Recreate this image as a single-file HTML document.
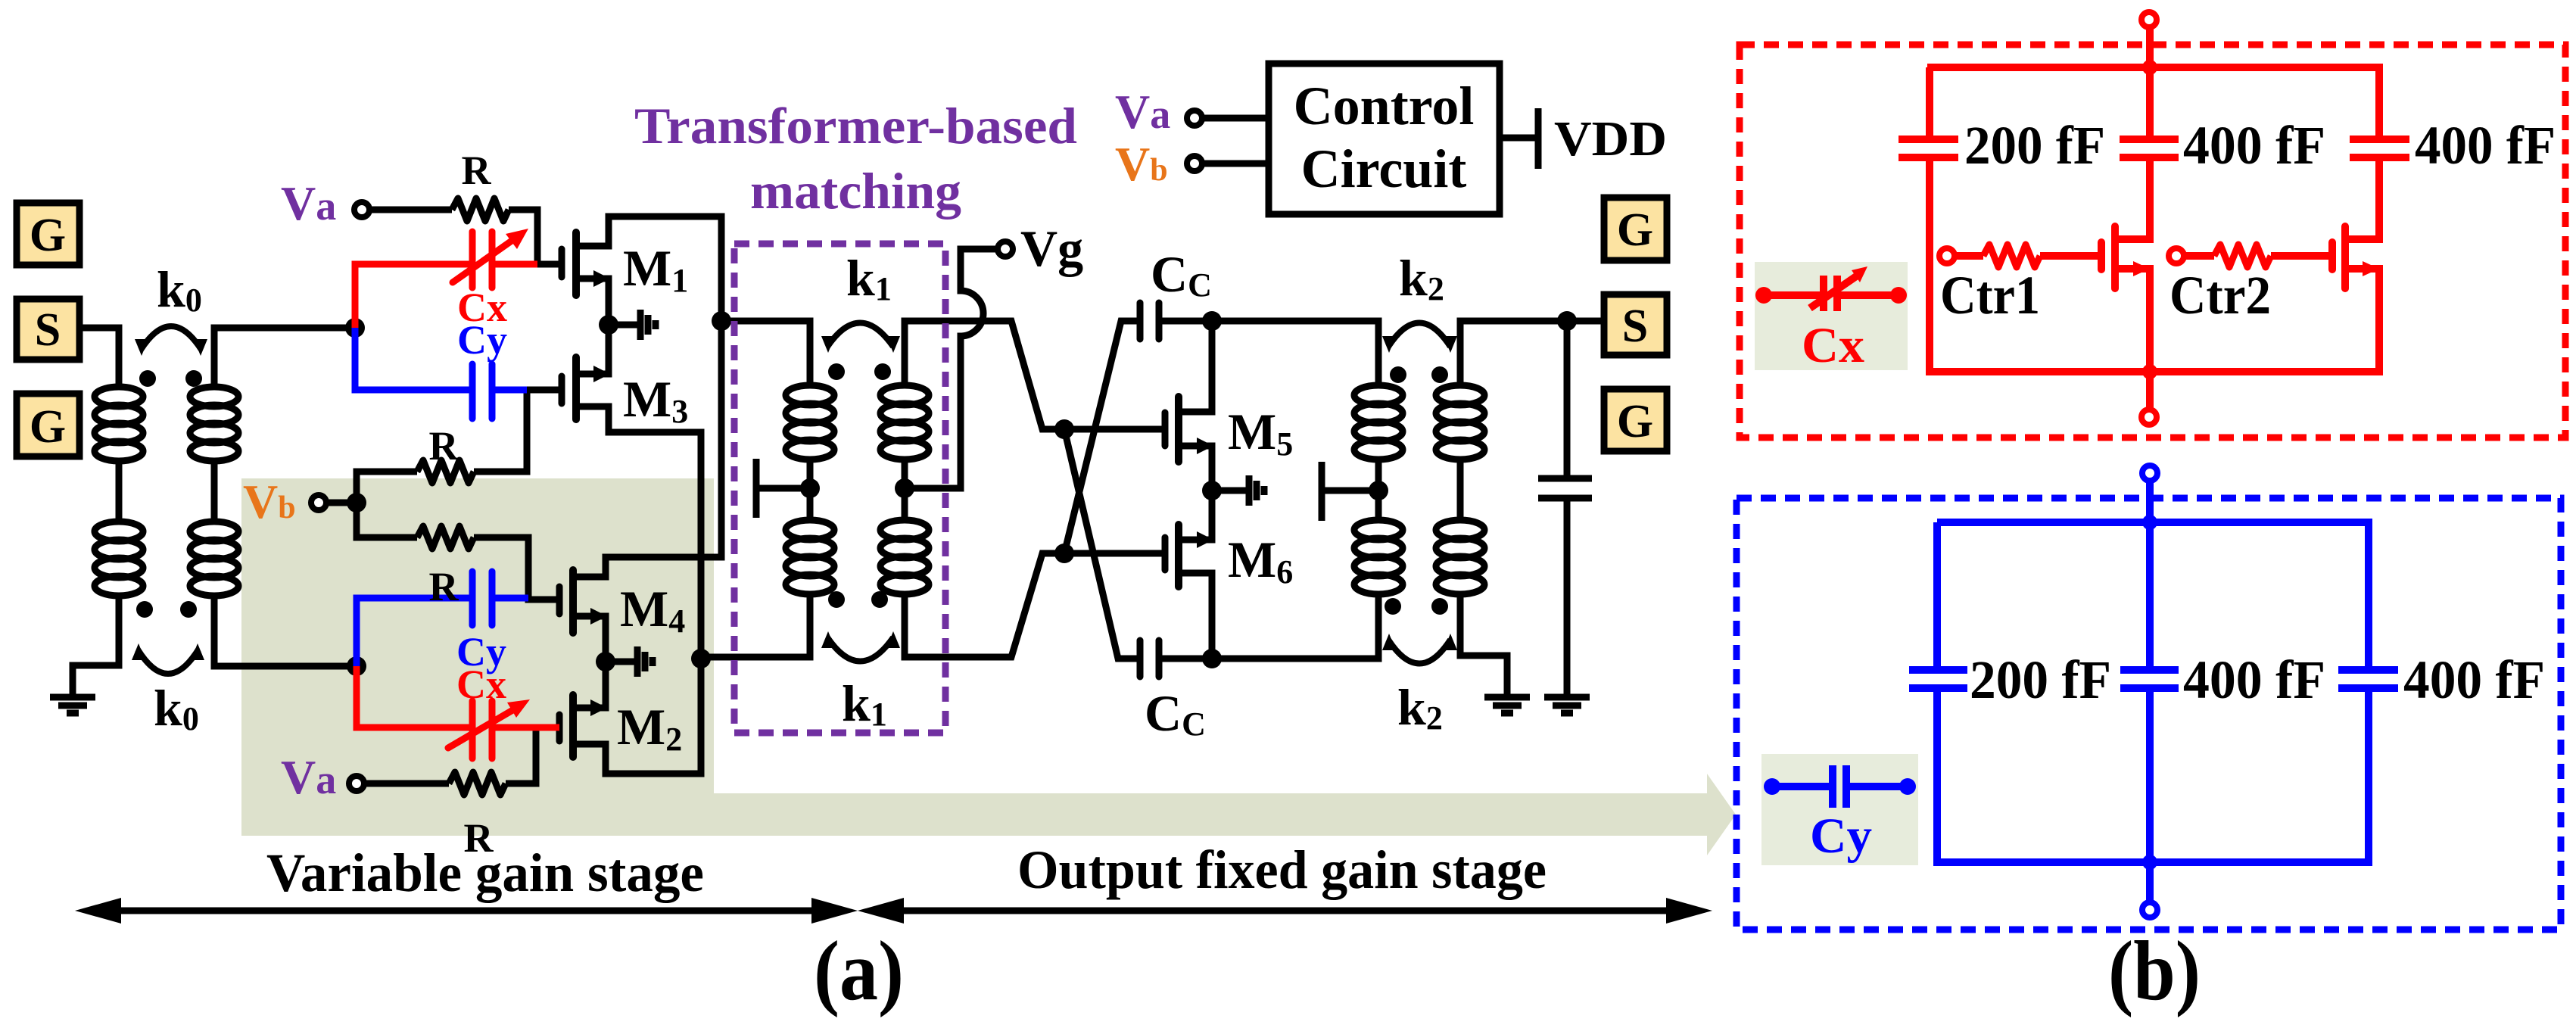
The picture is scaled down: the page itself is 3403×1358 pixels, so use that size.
<!DOCTYPE html>
<html><head><meta charset="utf-8"><style>
html,body{margin:0;padding:0;background:#fff;}
svg{display:block;}
text{font-family:"Liberation Serif",serif;font-weight:bold;}
</style></head><body>
<svg width="3403" height="1358" viewBox="0 0 3403 1358" xmlns="http://www.w3.org/2000/svg">
<defs>
<g id="coil" fill="none" stroke-width="9">
<ellipse cx="0" cy="0" rx="32" ry="13"/><ellipse cx="0" cy="24" rx="32" ry="13"/><ellipse cx="0" cy="48" rx="32" ry="13"/><ellipse cx="0" cy="72" rx="32" ry="13"/>
</g>
<path id="res" d="M0,0 l8,-15 l12,30 l12,-30 l12,30 l12,-30 l12,30 l7,-15" fill="none" stroke-width="9" stroke-linejoin="round"/>
<g id="gnd" stroke="#000" stroke-width="9" fill="none"><path d="M0,0 V12 M-30,12 H30 M-19,23 H19 M-8,33 H8"/></g>
</defs>

<polygon points="319,632 943,632 943,1048 2255,1048 2255,1022 2293,1076 2255,1130 2255,1104 319,1104" fill="#dde1cc"/>

<g stroke="#000" stroke-width="9" fill="#fce3a2">
<rect x="22" y="268" width="83" height="82"/><rect x="22" y="395" width="83" height="80"/><rect x="22" y="520" width="83" height="83"/>
<rect x="2119" y="261" width="83" height="83"/><rect x="2119" y="389" width="83" height="80"/><rect x="2119" y="514" width="83" height="82"/>
</g>
<g font-size="62" text-anchor="middle">
<text x="63" y="331">G</text><text x="63" y="456">S</text><text x="63" y="584">G</text>
<text x="2160" y="324">G</text><text x="2160" y="451">S</text><text x="2160" y="577">G</text>
</g>

<g stroke="#000" stroke-width="9" fill="none">
<path d="M105,433 H157 V512 M157,608 V690 M157,786 V879 H96 V915"/>
<path d="M283,512 V433 H469 M283,608 V690 M283,786 V880 H471"/>
<path d="M487,277 H597 M672,277 H710 V349 H742"/>
<path d="M696,515 H742 M696,515 V623 H626 M551,623 H471 V710 H551 M626,710 H698 V792 H739"/>
<path d="M430,664 H471"/>
<path d="M480,1035 H593 M668,1035 H708 V961 H739"/>
<path d="M742,329 V366" stroke-linecap="round"/>
<path d="M761,307 V390" stroke-width="10" stroke-linecap="round"/>
<path d="M761,325 H804 V286 H953 V736 H800 V762 H761"/>
<path d="M761,368 H804 V494 H761"/>
<path d="M742,497 V533" stroke-linecap="round"/>
<path d="M761,472 V554" stroke-width="10" stroke-linecap="round"/>
<path d="M761,537 H804 V571 H926 V1022 H800 V983 H757"/>
<path d="M804,429 H846 M846,409 V449 M856,416 V442 M866,423 V435"/>
<path d="M739,775 V811" stroke-linecap="round"/>
<path d="M757,753 V836" stroke-width="10" stroke-linecap="round"/>
<path d="M739,944 V979" stroke-linecap="round"/>
<path d="M757,918 V1000" stroke-width="10" stroke-linecap="round"/>
<path d="M757,814 H800 V935 H757"/>
<path d="M800,874 H842 M842,854 V894 M852,861 V887 M862,868 V880"/>
<path d="M953,424 H1070 V512 M1070,608 V686 M1070,786 V868 H926"/>
<path d="M999,606 V684 M999,645 H1070"/>
<path d="M1195,512 V424 H1336 L1377,567 H1539 M1195,608 V686 M1195,786 V868 H1336 L1377,731 H1539"/>
<path d="M1195,645 H1269 V444 A30,30 0 0,0 1269,384 V329 H1319"/>
<path d="M1406,567 L1477,870 H1506 M1531,870 H1821 V786 M1406,731 L1481,424 H1506 M1531,424 H1821 V512 M1821,608 V686"/>
<path d="M1506,846 V894 M1531,846 V894 M1506,400 V448 M1531,400 V448" stroke-linecap="round"/>
<path d="M1539,545 V589 M1539,710 V753" stroke-linecap="round"/>
<path d="M1557,524 V610 M1557,693 V775" stroke-width="10" stroke-linecap="round"/>
<path d="M1557,544 H1601 V424 M1557,589 H1601 V713 H1557 M1557,757 H1601 V870"/>
<path d="M1601,648 H1650 M1650,628 V668 M1660,635 V661 M1670,642 V654"/>
<path d="M1821,648 H1746 M1746,610 V688"/>
<path d="M1929,512 V424 H2119 M1929,608 V686 M1929,786 V866 H1991 V909"/>
<path d="M2070,424 V632 M2070,658 V909 M2032,632 H2103 M2032,658 H2103"/>
<rect x="1676" y="84" width="305" height="199"/>
<path d="M1587,156 H1676 M1587,216 H1676 M1981,182 H2032 M2032,143 V223"/>
<path d="M150,1203 H1083 M1183,1203 H2210"/>
</g>
<polygon points="99,1203 160,1186 160,1220" fill="#000"/>
<polygon points="1133,1203 1072,1186 1072,1220" fill="#000"/>
<polygon points="1133,1203 1194,1186 1194,1220" fill="#000"/>
<polygon points="2262,1203 2201,1186 2201,1220" fill="#000"/>

<g stroke="#000">
<use href="#coil" x="157" y="524"/><use href="#coil" x="157" y="702"/>
<use href="#coil" x="283" y="524"/><use href="#coil" x="283" y="702"/>
<use href="#coil" x="1070" y="522"/><use href="#coil" x="1070" y="700"/>
<use href="#coil" x="1195" y="522"/><use href="#coil" x="1195" y="700"/>
<use href="#coil" x="1821" y="522"/><use href="#coil" x="1821" y="700"/>
<use href="#coil" x="1929" y="522"/><use href="#coil" x="1929" y="700"/>
</g>
<g stroke="#000">
<use href="#res" x="597" y="277"/><use href="#res" x="551" y="623"/><use href="#res" x="551" y="710"/><use href="#res" x="593" y="1035"/>
</g>
<use href="#gnd" x="96" y="909"/><use href="#gnd" x="1991" y="909"/><use href="#gnd" x="2070" y="909"/>

<g fill="#000">
<polygon points="806,368 784,357 784,379"/><polygon points="806,494 784,483 784,505"/>
<polygon points="802,814 780,803 780,825"/><polygon points="802,935 780,924 780,946"/>
<polygon points="1603,589 1581,578 1581,600"/><polygon points="1603,713 1581,702 1581,724"/>
</g>

<g fill="#000">
<circle cx="195" cy="500" r="11"/><circle cx="256" cy="500" r="11"/><circle cx="191" cy="805" r="11"/><circle cx="249" cy="805" r="11"/>
<circle cx="1105" cy="491" r="11"/><circle cx="1166" cy="491" r="11"/><circle cx="1105" cy="792" r="11"/><circle cx="1162" cy="792" r="11"/>
<circle cx="1847" cy="495" r="11"/><circle cx="1902" cy="495" r="11"/><circle cx="1840" cy="801" r="11"/><circle cx="1902" cy="801" r="11"/>
<circle cx="469" cy="433" r="13"/><circle cx="471" cy="880" r="13"/><circle cx="471" cy="664" r="13"/>
<circle cx="804" cy="429" r="13"/><circle cx="800" cy="874" r="13"/><circle cx="953" cy="424" r="13"/><circle cx="926" cy="870" r="13"/>
<circle cx="1070" cy="645" r="13"/><circle cx="1195" cy="645" r="13"/><circle cx="1406" cy="567" r="13"/><circle cx="1406" cy="731" r="13"/>
<circle cx="1601" cy="424" r="13"/><circle cx="1601" cy="870" r="13"/><circle cx="1601" cy="648" r="13"/><circle cx="1821" cy="648" r="13"/><circle cx="2070" cy="424" r="13"/>
</g>
<g fill="#fff" stroke="#000" stroke-width="8">
<circle cx="478" cy="277" r="10"/><circle cx="421" cy="664" r="10"/><circle cx="471" cy="1035" r="10"/>
<circle cx="1328" cy="329" r="10"/><circle cx="1578" cy="156" r="10"/><circle cx="1578" cy="216" r="10"/>
</g>

<g fill="none" stroke="#000" stroke-width="8">
<path d="M186,462 Q226,400 266,462"/><path d="M182,858 Q222,922 262,858"/>
<path d="M1093,458 Q1136,395 1180,458"/><path d="M1093,842 Q1136,905 1180,842"/>
<path d="M1834,458 Q1875,395 1916,458"/><path d="M1834,845 Q1875,908 1916,845"/>
</g>
<g fill="#000">
<polygon points="178,448 196,448 187,470"/><polygon points="256,448 274,448 265,470"/>
<polygon points="174,872 192,872 183,850"/><polygon points="252,872 270,872 261,850"/>
<polygon points="1085,444 1103,444 1094,466"/><polygon points="1171,444 1189,444 1180,466"/>
<polygon points="1085,856 1103,856 1094,834"/><polygon points="1171,856 1189,856 1180,834"/>
<polygon points="1826,444 1844,444 1835,466"/><polygon points="1907,444 1925,444 1916,466"/>
<polygon points="1826,859 1844,859 1835,837"/><polygon points="1907,859 1925,859 1916,837"/>
</g>

<g stroke="#ff0000" stroke-width="9" fill="none">
<path d="M469,433 V349 H624 M650,349 H710"/>
<path d="M624,306 V380 M650,306 V380" stroke-linecap="round"/>
<path d="M598,373 L686,311" stroke-linecap="round"/>
<path d="M471,880 V961 H624 M650,961 H739"/>
<path d="M624,926 V1002 M650,926 V1002" stroke-linecap="round"/>
<path d="M592,988 L686,933" stroke-linecap="round"/>
</g>
<polygon points="698,302 668,309 683,329" fill="#ff0000"/>
<polygon points="700,924 670,928 682,948" fill="#ff0000"/>
<g stroke="#0000ff" stroke-width="9" fill="none">
<path d="M469,433 V515 H624 M650,515 H696"/>
<path d="M624,481 V553 M650,481 V553" stroke-linecap="round"/>
<path d="M471,880 V790 H624 M650,790 H698"/>
<path d="M624,755 V826 M650,755 V826" stroke-linecap="round"/>
</g>

<rect x="970" y="322" width="279" height="646" fill="none" stroke="#7030a0" stroke-width="9" stroke-dasharray="20 12"/>

<g font-size="54" text-anchor="middle">
<text x="629" y="243">R</text><text x="586" y="607">R</text><text x="586" y="793">R</text><text x="632" y="1125">R</text>
</g>
<g font-size="54" fill="#ff0000" text-anchor="middle"><text x="637" y="424">Cx</text><text x="636" y="922">Cx</text></g>
<g font-size="54" fill="#0000ff" text-anchor="middle"><text x="637" y="467">Cy</text><text x="636" y="879">Cy</text></g>
<g fill="#7030a0"><text x="371" y="290" font-size="64">V<tspan font-size="54">a</tspan></text><text x="371" y="1048" font-size="64">V<tspan font-size="54">a</tspan></text>
<text x="1473" y="169" font-size="64">V<tspan font-size="54">a</tspan></text></g>
<g fill="#e8751a"><text x="321" y="684" font-size="64">V<tspan font-size="42">b</tspan></text><text x="1473" y="238" font-size="64">V<tspan font-size="42">b</tspan></text></g>
<g font-size="68">
<text x="823" y="377">M<tspan font-size="44" dy="8">1</tspan></text>
<text x="823" y="550">M<tspan font-size="44" dy="8">3</tspan></text>
<text x="819" y="827">M<tspan font-size="44" dy="8">4</tspan></text>
<text x="815" y="983">M<tspan font-size="44" dy="8">2</tspan></text>
<text x="1622" y="593">M<tspan font-size="44" dy="8">5</tspan></text>
<text x="1622" y="762">M<tspan font-size="44" dy="8">6</tspan></text>
<text x="207" y="405">k<tspan font-size="44" dy="6">0</tspan></text>
<text x="203" y="958">k<tspan font-size="44" dy="6">0</tspan></text>
<text x="1118" y="390">k<tspan font-size="44" dy="6">1</tspan></text>
<text x="1112" y="952">k<tspan font-size="44" dy="6">1</tspan></text>
<text x="1848" y="390">k<tspan font-size="44" dy="6">2</tspan></text>
<text x="1846" y="957">k<tspan font-size="44" dy="6">2</tspan></text>
<text x="1520" y="385">C<tspan font-size="44" dy="6">C</tspan></text>
<text x="1512" y="965">C<tspan font-size="44" dy="6">C</tspan></text>
<text x="1348" y="351">Vg</text>
</g>
<g font-size="68" fill="#7030a0">
<text x="838" y="189" textLength="585" lengthAdjust="spacingAndGlyphs">Transformer-based</text>
<text x="991" y="275" textLength="279" lengthAdjust="spacingAndGlyphs">matching</text>
</g>
<g font-size="72" text-anchor="middle"><text x="1828" y="164">Control</text><text x="1828" y="247">Circuit</text></g>
<text x="2053" y="205" font-size="66" textLength="149" lengthAdjust="spacingAndGlyphs">VDD</text>
<text x="352" y="1177" font-size="72" textLength="578" lengthAdjust="spacingAndGlyphs">Variable gain stage</text>
<text x="1344" y="1173" font-size="72" textLength="699" lengthAdjust="spacingAndGlyphs">Output fixed gain stage</text>
<text x="1075" y="1320" font-size="112" textLength="119" lengthAdjust="spacingAndGlyphs">(a)</text>
<text x="2785" y="1320" font-size="112" textLength="122" lengthAdjust="spacingAndGlyphs">(b)</text>

<rect x="2298" y="59" width="1091" height="519" fill="none" stroke="#ff0000" stroke-width="9" stroke-dasharray="20 12"/>
<rect x="2318" y="346" width="202" height="143" fill="#e7ecdc"/>
<g stroke="#ff0000" stroke-width="10" fill="none">
<path d="M2840,35 V89 M2546,89 H3143 V184 M3143,208 V316 H3098 M2549,89 V184 M2549,208 V491 H3143 V355 H3098 M2840,89 V184 M2840,208 V316 H2794 M2794,355 H2840 V491 M2840,491 V542"/>
<path d="M2508,184 H2587 M2508,208 H2587 M2800,184 H2878 M2800,208 H2878 M3104,184 H3183 M3104,208 H3183"/>
<path d="M2581,338 H2620 M2695,338 H2776 M2884,338 H2925 M3000,338 H3081"/>
<path d="M2776,320 V356 M3081,320 V356" stroke-linecap="round"/>
<path d="M2794,299 V381 M3098,299 V381" stroke-width="10" stroke-linecap="round"/>
<path d="M2330,390 H2409 M2427,390 H2508 M2409,364 V411 M2427,364 V411 M2391,407 L2455,363"/>
</g>
<g stroke="#ff0000"><use href="#res" x="2620" y="338"/><use href="#res" x="2925" y="338"/></g>
<polygon points="2840,355 2818,345 2818,365" fill="#ff0000"/><polygon points="3143,355 3121,345 3121,365" fill="#ff0000"/>
<polygon points="2467,352 2446,357 2457,373" fill="#ff0000"/>
<g fill="#ff0000"><circle cx="2840" cy="89" r="10"/><circle cx="2840" cy="491" r="10"/><circle cx="2330" cy="390" r="11"/><circle cx="2508" cy="390" r="11"/></g>
<g fill="#fff" stroke="#ff0000" stroke-width="8"><circle cx="2839" cy="26" r="10"/><circle cx="2839" cy="551" r="10"/><circle cx="2572" cy="338" r="10"/><circle cx="2875" cy="338" r="10"/></g>
<g font-size="72">
<text x="2595" y="216" textLength="186" lengthAdjust="spacingAndGlyphs">200 fF</text>
<text x="2884" y="216" textLength="188" lengthAdjust="spacingAndGlyphs">400 fF</text>
<text x="3190" y="216" textLength="186" lengthAdjust="spacingAndGlyphs">400 fF</text>
<text x="2563" y="414" textLength="132" lengthAdjust="spacingAndGlyphs">Ctr1</text>
<text x="2866" y="414" textLength="134" lengthAdjust="spacingAndGlyphs">Ctr2</text>
</g>
<text x="2380" y="478" font-size="66" fill="#ff0000" textLength="83" lengthAdjust="spacingAndGlyphs">Cx</text>

<rect x="2294" y="658" width="1089" height="570" fill="none" stroke="#0000ff" stroke-width="9" stroke-dasharray="20 12"/>
<rect x="2327" y="996" width="207" height="147" fill="#e7ecdc"/>
<g stroke="#0000ff" stroke-width="10" fill="none">
<path d="M2840,634 V885 M2840,909 V1193 M2559,690 H3129 V885 M3129,909 V1139 H2559 V909 M2559,885 V690"/>
<path d="M2522,885 H2599 M2522,909 H2599 M2801,885 H2878 M2801,909 H2878 M3089,885 H3168 M3089,909 H3168"/>
<path d="M2341,1039 H2421 M2439,1039 H2520 M2421,1011 V1067 M2439,1011 V1067"/>
</g>
<g fill="#0000ff"><circle cx="2840" cy="690" r="10"/><circle cx="2840" cy="1139" r="10"/><circle cx="2341" cy="1039" r="11"/><circle cx="2520" cy="1039" r="11"/></g>
<g fill="#fff" stroke="#0000ff" stroke-width="8"><circle cx="2840" cy="625" r="10"/><circle cx="2840" cy="1202" r="10"/></g>
<g font-size="72">
<text x="2602" y="922" textLength="187" lengthAdjust="spacingAndGlyphs">200 fF</text>
<text x="2884" y="922" textLength="188" lengthAdjust="spacingAndGlyphs">400 fF</text>
<text x="3175" y="922" textLength="187" lengthAdjust="spacingAndGlyphs">400 fF</text>
</g>
<text x="2391" y="1126" font-size="66" fill="#0000ff" textLength="82" lengthAdjust="spacingAndGlyphs">Cy</text>
</svg>
</body></html>
